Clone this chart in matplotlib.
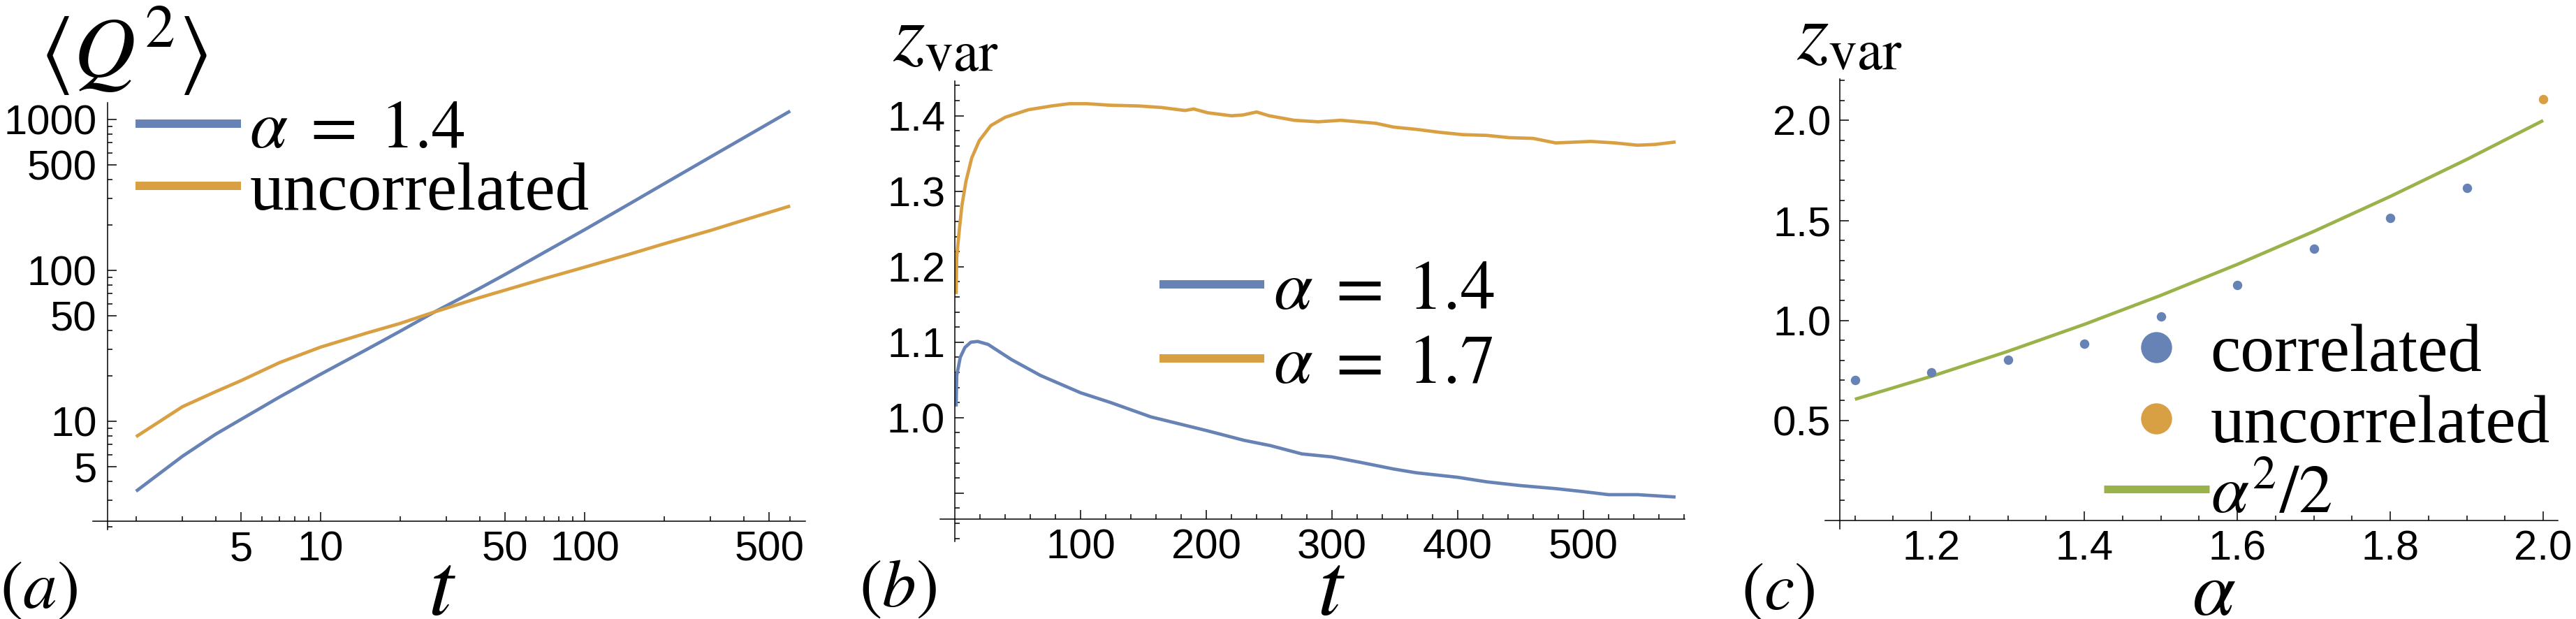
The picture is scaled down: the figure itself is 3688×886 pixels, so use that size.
import matplotlib
matplotlib.use('Agg')
import matplotlib.pyplot as plt
from matplotlib.lines import Line2D
from matplotlib.ticker import NullFormatter

plt.rcParams['mathtext.fontset'] = 'stix'
plt.rcParams['font.family'] = ['Liberation Sans Narrow', 'Liberation Sans', 'DejaVu Sans']

W, H = 3688, 886
BLUE = '#6783B6'
ORANGE = '#D9A043'
GREEN = '#9AB24A'

# ---------------- data: panel (a) ----------------
t_a = [2, 3, 4, 5, 7, 10, 15, 20, 27, 40, 50, 70, 100, 150, 200, 300, 400, 600]
q2_corr = [3.44, 5.87, 8.2, 10.3, 14.5, 20.5, 30, 39.5, 53, 76, 94, 131, 186,
           280, 375, 565, 755, 1136]
t_a_unc = [2, 3, 4, 5, 7, 10, 15, 20, 27, 40, 50, 70, 100, 150, 200, 300, 400, 600]
q2_unc = [7.9, 12.5, 15.7, 18.6, 24.5, 31, 38.5, 44.5, 53, 66, 74, 88, 105,
          129, 150, 184, 215, 267]

# ---------------- data: panel (b) ----------------
t_b14 = [1, 1.5, 4.3, 8, 12.7, 18.2, 26.5, 45, 68, 100, 124, 156, 200, 230, 251,
         276, 300, 322, 349, 367, 400, 423, 450, 478, 500, 520, 543, 572]
z_b14 = [1.017, 1.056, 1.080, 1.093, 1.100, 1.101, 1.097, 1.077, 1.056, 1.033,
         1.020, 1.001, 0.983, 0.970, 0.963, 0.952, 0.948, 0.941, 0.932, 0.927,
         0.921, 0.915, 0.910, 0.906, 0.902, 0.898, 0.898, 0.895]
t_b17 = [1, 1.5, 3.3, 5.6, 8.8, 13.4, 19.4, 28.6, 40, 58.5, 77, 91, 105, 123,
         146, 164, 183, 190, 201, 220, 229, 240, 250, 270, 289, 307, 321, 335,
         349, 367, 386, 404, 423, 441, 460, 478, 492, 506, 525, 543, 557, 572]
z_b17 = [1.166, 1.213, 1.245, 1.281, 1.313, 1.344, 1.367, 1.387, 1.398, 1.408,
         1.413, 1.416, 1.416, 1.414, 1.413, 1.411, 1.407, 1.409, 1.404, 1.400,
         1.401, 1.405, 1.400, 1.394, 1.392, 1.394, 1.392, 1.390, 1.385, 1.382,
         1.378, 1.375, 1.374, 1.371, 1.370, 1.364, 1.365, 1.366, 1.364, 1.361,
         1.362, 1.365]

# ---------------- data: panel (c) ----------------
alpha_corr = [1.1, 1.2, 1.3, 1.4, 1.5, 1.6, 1.7, 1.8, 1.9]
z_corr = [0.700, 0.741, 0.804, 0.882, 1.021, 1.178, 1.360, 1.514, 1.664]
alpha_unc = [2.0]
z_unc = [2.108]
alpha_th = [1.1, 1.2, 1.3, 1.4, 1.5, 1.6, 1.7, 1.8, 1.9, 2.0]
z_th = [0.605, 0.72, 0.845, 0.98, 1.125, 1.28, 1.445, 1.62, 1.805, 2.0]

fig = plt.figure(figsize=(W / 100, H / 100), dpi=100)
fig.patch.set_facecolor('white')


def px_axes(x0, y0, x1, y1):
    return fig.add_axes([x0 / W, 1 - y1 / H, (x1 - x0) / W, (y1 - y0) / H])


def style(ax, xorig, yorig, xpad=10, ypad=10):
    for s in ('top', 'right'):
        ax.spines[s].set_visible(False)
    ax.spines['left'].set_position(('data', xorig))
    ax.spines['bottom'].set_position(('data', yorig))
    for s in ('left', 'bottom'):
        ax.spines[s].set_linewidth(1.1)
    ax.patch.set_alpha(0)
    ax.tick_params(which='both', direction='in', width=1.1, color='black')
    ax.tick_params(which='major', length=9.4)
    ax.tick_params(which='minor', length=5)
    ax.tick_params(axis='x', pad=xpad, labelsize=43)
    ax.tick_params(axis='y', pad=ypad, labelsize=43)


def fx(x):
    return x / W


def fy(y):
    return 1 - y / H


LW = 3.4
SERIF = {'family': 'Liberation Serif', 'size': 70}

# ---------------- panel (a) ----------------
axa = px_axes(133, 147, 1153, 758)
axa.set_xscale('log')
axa.set_yscale('log')
axa.set_xlim(1.373, 685)
axa.set_ylim(1.916, 1291)
style(axa, 1.56, 2.18, ypad=11)
axa.plot(t_a, q2_corr, color=BLUE, lw=LW, solid_capstyle='butt')
axa.plot(t_a_unc, q2_unc, color=ORANGE, lw=LW, solid_capstyle='butt')
axa.set_xticks([5, 10, 50, 100, 500], ['5', '10', '50', '100', '500'])
axa.set_xticks([2, 3, 4, 6, 7, 8, 9, 20, 30, 40, 60, 70, 80, 90,
                200, 300, 400, 600], minor=True)
axa.set_yticks([5, 10, 50, 100, 500, 1000],
               ['5', '10', '50', '100', '500', '1000'])
axa.set_yticks([2, 3, 4, 6, 7, 8, 9, 20, 30, 40, 60, 70, 80, 90,
                200, 300, 400, 600, 700, 800, 900], minor=True)
axa.xaxis.set_minor_formatter(NullFormatter())
axa.yaxis.set_minor_formatter(NullFormatter())
handles_a = [Line2D([], [], color=BLUE, lw=8.6, solid_capstyle='butt'),
             Line2D([], [], color=ORANGE, lw=8.6, solid_capstyle='butt')]
lega = axa.legend(handles_a, [r'$\alpha\;=\;1.4$', 'uncorrelated'],
                  loc='upper left', bbox_to_anchor=(fx(194), fy(143)),
                  bbox_transform=fig.transFigure, frameon=False, borderpad=0,
                  borderaxespad=0, handlelength=1.55, handletextpad=0.13,
                  labelspacing=0.0, prop=SERIF)

# ---------------- panel (b) ----------------
axb = px_axes(1346, 116, 2412, 775)
axb.set_xlim(-11.7, 580.6)
axb.set_ylim(0.836, 1.446)
style(axb, 0, 0.866)
axb.plot(t_b14, z_b14, color=BLUE, lw=LW)
axb.plot(t_b17, z_b17, color=ORANGE, lw=LW)
axb.set_xticks([100, 200, 300, 400, 500], ['100', '200', '300', '400', '500'])
axb.set_xticks([20, 40, 60, 80, 120, 140, 160, 180, 220, 240, 260, 280,
                320, 340, 360, 380, 420, 440, 460, 480, 520, 540, 560, 580],
               minor=True)
axb.set_yticks([0.9, 1.0, 1.1, 1.2, 1.3, 1.4],
               ['', '1.0', '1.1', '1.2', '1.3', '1.4'])
axb.set_yticks([0.84, 0.86, 0.88, 0.92, 0.94, 0.96, 0.98, 1.02, 1.04, 1.06,
                1.08, 1.12, 1.14, 1.16, 1.18, 1.22, 1.24, 1.26, 1.28, 1.32,
                1.34, 1.36, 1.38, 1.42, 1.44], minor=True)
handles_b = [Line2D([], [], color=BLUE, lw=8.6, solid_capstyle='butt'),
             Line2D([], [], color=ORANGE, lw=8.6, solid_capstyle='butt')]
legb = axb.legend(handles_b, [r'$\alpha\;=\;1.4$', r'$\alpha\;=\;1.7$'],
                  loc='upper left', bbox_to_anchor=(fx(1660), fy(372)),
                  bbox_transform=fig.transFigure, frameon=False, borderpad=0,
                  borderaxespad=0, handlelength=1.5, handletextpad=0.13,
                  labelspacing=0.15,
                  prop={'family': 'Liberation Serif', 'size': 72})

# ---------------- panel (c) ----------------
axc = px_axes(2613, 113, 3662, 757)
axc.set_xlim(1.061, 2.0192)
axc.set_ylim(-0.0434, 2.208)
style(axc, 1.08, 0.0, ypad=9)
axc.plot(alpha_th, z_th, color=GREEN, lw=LW, solid_capstyle='butt')
axc.plot(alpha_corr, z_corr, ls='none', marker='o', ms=9.7, color=BLUE,
         mec='none', clip_on=False)
axc.plot(alpha_unc, z_unc, ls='none', marker='o', ms=9.7, color=ORANGE,
         mec='none', clip_on=False)
axc.set_xticks([1.2, 1.4, 1.6, 1.8, 2.0], ['1.2', '1.4', '1.6', '1.8', '2.0'])
axc.set_xticks([1.1, 1.15, 1.25, 1.3, 1.35, 1.45, 1.5, 1.55, 1.65, 1.7, 1.75,
                1.85, 1.9, 1.95], minor=True)
axc.set_yticks([0.5, 1.0, 1.5, 2.0], ['0.5', '1.0', '1.5', '2.0'])
axc.set_yticks([0.1, 0.2, 0.3, 0.4, 0.6, 0.7, 0.8, 0.9, 1.1, 1.2, 1.3, 1.4,
                1.6, 1.7, 1.8, 1.9, 2.1, 2.2], minor=True)
handles_c = [Line2D([], [], ls='none', marker='o', ms=32, color=BLUE, mec='none'),
             Line2D([], [], ls='none', marker='o', ms=32, color=ORANGE, mec='none'),
             Line2D([], [], color=GREEN, lw=8.0, solid_capstyle='butt')]
legc = axc.legend(handles_c, ['correlated', 'uncorrelated', r'$\alpha^2/2$'],
                  loc='upper left', bbox_to_anchor=(fx(3012), fy(463)),
                  bbox_transform=fig.transFigure, frameon=False, borderpad=0,
                  borderaxespad=0, handlelength=1.55, handletextpad=0.02,
                  labelspacing=0.13, prop=SERIF)

# ---------------- labels ----------------
fig.text(fx(57), fy(110), r'$\langle Q^2\rangle$', fontsize=88, va='baseline', ha='left')
fig.text(fx(1278), fy(86), r'$z_{\mathrm{var}}$', fontsize=84, va='baseline', ha='left')
fig.text(fx(2572), fy(84), r'$z_{\mathrm{var}}$', fontsize=84, va='baseline', ha='left')
fig.text(fx(633), fy(880), r'$t$', fontsize=92, va='baseline', ha='center')
fig.text(fx(1906), fy(880), r'$t$', fontsize=92, va='baseline', ha='center')
fig.text(fx(3170), fy(880), r'$\alpha$', fontsize=80, va='baseline', ha='center')
fig.text(fx(0), fy(870), r'$(a)$', fontsize=70, va='baseline', ha='left')
fig.text(fx(1230), fy(868), r'$(b)$', fontsize=70, va='baseline', ha='left')
fig.text(fx(2493), fy(872), r'$(c)$', fontsize=70, va='baseline', ha='left')

fig.savefig('out.png', dpi=100, facecolor='white')
